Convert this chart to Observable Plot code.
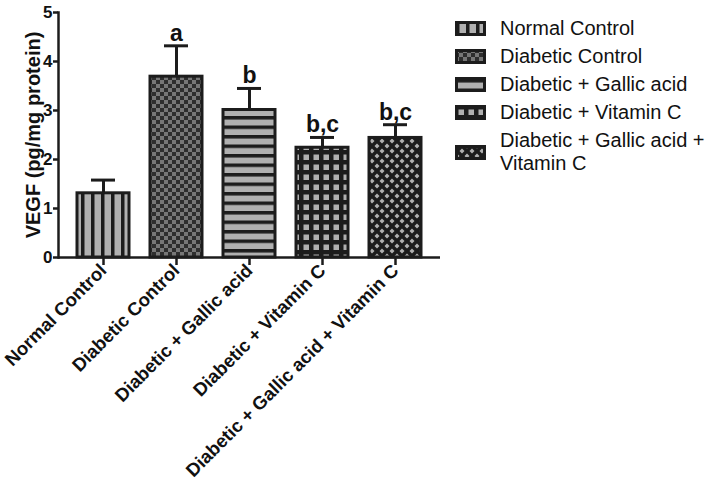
<!DOCTYPE html>
<html><head><meta charset="utf-8">
<script src="https://cdn.jsdelivr.net/npm/d3@7"></script>
<script src="https://cdn.jsdelivr.net/npm/@observablehq/plot@0.6"></script>
<style>
body{margin:0;background:#fff;}
#wrap{position:relative;width:709px;height:484px;font-family:"Liberation Sans",Arial,sans-serif;}
#legend{position:absolute;left:455px;top:17px;font-size:20px;line-height:23px;color:#111;}
.row{display:flex;align-items:center;margin-bottom:5px;}
.row svg{margin-right:14px;flex:none;}
</style></head><body><div id="wrap"><div id="legend"></div></div>
<script>
const groups = ["Normal Control","Diabetic Control","Diabetic + Gallic acid","Diabetic + Vitamin C","Diabetic + Gallic acid + Vitamin C"];
const means = [1.31, 3.69, 3.01, 2.24, 2.44];
const sems = [0.27, 0.63, 0.44, 0.21, 0.27];
const letters = ["", "a", "b", "b,c", "b,c"];
const yTicks = [0, 1, 2, 3, 4, 5];
const legendLines = [["Normal Control"],["Diabetic Control"],["Diabetic + Gallic acid"],["Diabetic + Vitamin C"],["Diabetic + Gallic acid +","Vitamin C"]];

const data = groups.map((g, i) => ({g, i, mean: means[i], sem: sems[i], letter: letters[i]}));
const DARK = "#1c1c1c", GREY = "#b0b0b0";

const plot = Plot.plot({
  width: 709, height: 484,
  marginLeft: 58, marginRight: 269, marginTop: 12, marginBottom: 227,
  style: {fontFamily: "'Liberation Sans', Arial, sans-serif", fontWeight: "bold", color: "#111", background: "white"},
  x: {domain: groups, paddingInner: 0.29, paddingOuter: 0.245},
  y: {domain: [0, 5]},
  marks: [
    Plot.ruleX(data, {x: "g", y1: "mean", y2: d => d.mean + d.sem, stroke: DARK, strokeWidth: 3}),
    Plot.tickY(data, {x: "g", y: d => d.mean + d.sem, stroke: DARK, strokeWidth: 3, insetLeft: 14, insetRight: 14}),
    Plot.barY(data, {x: "g", y: "mean", fill: d => `url(#pat${d.i})`, stroke: DARK, strokeWidth: 3}),
    Plot.text(data.filter(d => d.letter), {x: "g", y: d => d.mean + d.sem, text: "letter", dy: -5, lineAnchor: "bottom", fontSize: 23, fontWeight: "bold", fill: "#111"}),
    Plot.frame({anchor: "left", stroke: DARK, strokeWidth: 2.5}),
    Plot.ruleY([0], {stroke: DARK, strokeWidth: 2.5}),
    Plot.axisY({ticks: yTicks, tickFormat: "d", tickSize: 5, tickPadding: 1, fontSize: 17, strokeWidth: 2.5, stroke: DARK,
      label: "VEGF (pg/mg protein)", labelAnchor: "center", labelArrow: "none", labelOffset: 33}),
    Plot.axisX({tickSize: 8, tickPadding: 2, tickRotate: -45, fontSize: 18.5, strokeWidth: 2.5, stroke: DARK, label: null})
  ]
});

const defs = `
<defs>
  <pattern id="pat0" patternUnits="userSpaceOnUse" width="10" height="10" x="1">
    <rect width="10" height="10" fill="${GREY}"/><rect width="3.5" height="10" fill="${DARK}"/>
  </pattern>
  <pattern id="pat1" patternUnits="userSpaceOnUse" width="8" height="8">
    <rect width="8" height="8" fill="#2e2e2e"/><rect width="4" height="4" fill="#777"/><rect x="4" y="4" width="4" height="4" fill="#777"/>
  </pattern>
  <pattern id="pat2" patternUnits="userSpaceOnUse" width="10" height="9.5" y="2">
    <rect width="10" height="9.5" fill="${GREY}"/><rect width="10" height="3.5" fill="${DARK}"/>
  </pattern>
  <pattern id="pat3" patternUnits="userSpaceOnUse" width="10" height="10" x="1" y="2">
    <rect width="10" height="10" fill="${DARK}"/><rect x="2.5" y="2.5" width="5.5" height="5.5" fill="${GREY}"/>
  </pattern>
  <pattern id="pat4" patternUnits="userSpaceOnUse" width="10" height="10" x="2" y="1">
    <rect width="10" height="10" fill="${DARK}"/>
    <path d="M5,2.5L7.5,5L5,7.5L2.5,5Z M0,-2.5L2.5,0L0,2.5L-2.5,0Z M10,-2.5L12.5,0L10,2.5L7.5,0Z M0,7.5L2.5,10L0,12.5L-2.5,10Z M10,7.5L12.5,10L10,12.5L7.5,10Z" fill="${GREY}"/>
  </pattern>
</defs>`;
plot.insertAdjacentHTML("afterbegin", defs);
const lbl = plot.querySelector('g[aria-label="y-axis label"]');
if (lbl) { lbl.setAttribute("font-size", "20"); lbl.querySelectorAll("text").forEach(t => t.setAttribute("font-size", "20")); }
const wrap = document.getElementById("wrap");
wrap.insertBefore(plot, wrap.firstChild);

const legend = document.getElementById("legend");
legendLines.forEach((lines, i) => {
  const row = document.createElement("div");
  row.className = "row";
  row.innerHTML = `<svg width="31" height="15"><rect x="1.5" y="1.5" width="28" height="12" fill="url(#pat${i})" stroke="${DARK}" stroke-width="3"/></svg><div>${lines.join("<br>")}</div>`;
  legend.appendChild(row);
});
</script>
</body></html>
